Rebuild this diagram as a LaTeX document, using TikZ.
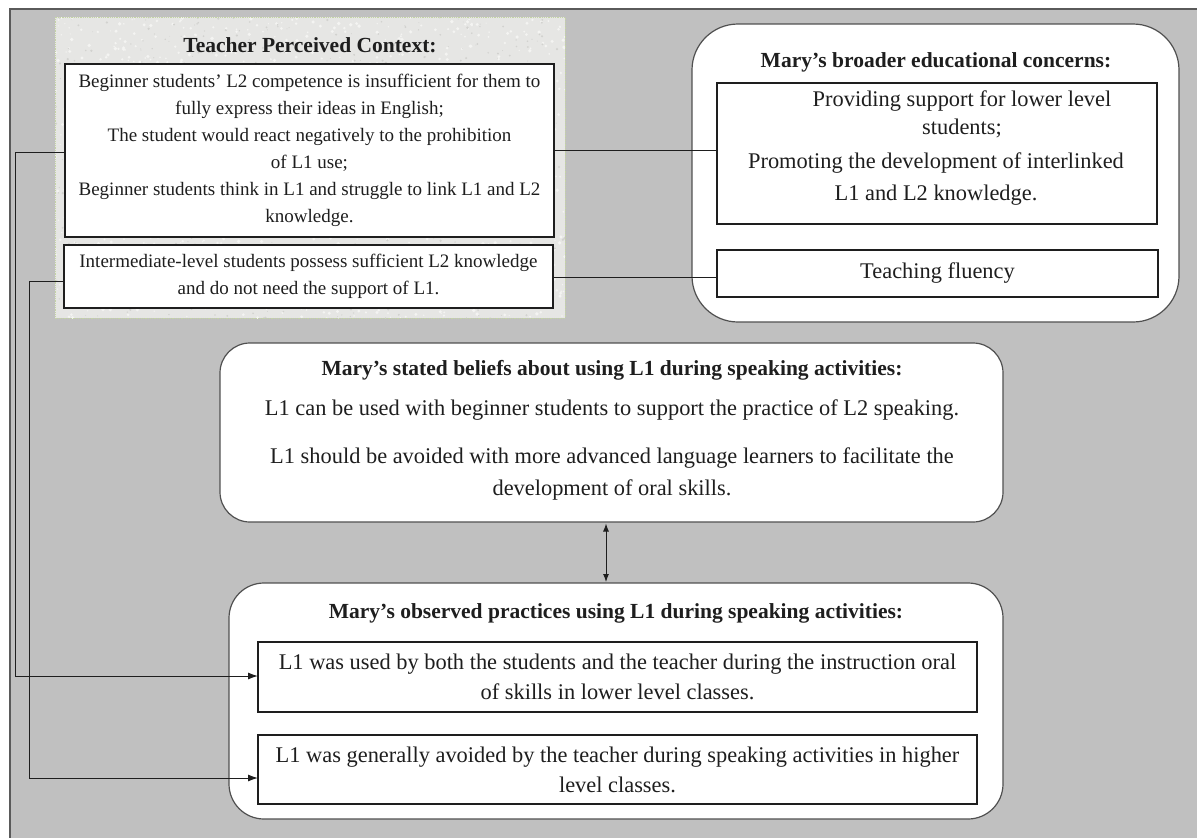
\documentclass[tikz,border=0pt]{standalone}
\usepackage{fontspec}
\setmainfont{Liberation Serif}
\usetikzlibrary{arrows.meta,calc}

\definecolor{pagegray}{HTML}{C0C0C0}
\definecolor{framegray}{HTML}{5A5A5A}
\definecolor{panelfill}{HTML}{E6E6E4}
\definecolor{panelspeck}{HTML}{F4F4F2}
\definecolor{paneldark}{HTML}{D2D2CF}
\definecolor{panelborder}{HTML}{C4D4A4}
\definecolor{inkline}{HTML}{1E1E1E}
\definecolor{roundline}{HTML}{505050}

\tikzset{
  ctxpanel/.style={fill=panelfill, draw=none, minimum width=510pt, minimum height=301pt},
  plainbox/.style={draw=inkline, fill=white, line width=1.1pt, align=center, text=inkline},
  roundbox/.style={draw=roundline, fill=white, line width=1.2pt},
  headtext/.style={font=\bfseries\fontsize{21.5}{26}\selectfont, text=inkline},
  smalltext/.style={font=\fontsize{19}{27}\selectfont},
  bodytext/.style={font=\fontsize{22.4}{30}\selectfont, align=center, text=inkline},
  link/.style={draw=inkline, line width=1pt},
  linkarrow/.style={link, -{Latex[length=10pt,width=7pt]}},
  twoway/.style={link, {Latex[length=8pt,width=6pt]}-{Latex[length=8pt,width=6pt]}},
}

\begin{document}
\begin{tikzpicture}[x=1pt, y=-1pt, every node/.style={inner sep=0pt, outer sep=0pt}]
\useasboundingbox (0,0) rectangle (1197,838);

% page background with its frame on the top and left sides
\fill[pagegray] (10,9) rectangle (1197,838);
\draw[framegray, line width=2pt] (10,838) -- (10,9) -- (1197,9);

% textured panel for the perceived context
\node[ctxpanel] (ctx) at (310,167.5) {};
\begin{scope}
  \clip (ctx.north west) rectangle (ctx.south east);
  \pgfmathsetseed{17}
  \foreach \i in {1,...,1400}{
    \pgfmathsetmacro\px{55+510*rnd}
    \pgfmathsetmacro\py{17+301*rnd}
    \pgfmathsetmacro\pr{0.6+1.3*rnd}
    \fill[panelspeck] (\px,\py) circle (\pr);
  }
  \foreach \i in {1,...,700}{
    \pgfmathsetmacro\px{55+510*rnd}
    \pgfmathsetmacro\py{17+301*rnd}
    \pgfmathsetmacro\pr{0.4+0.9*rnd}
    \fill[paneldark] (\px,\py) circle (\pr);
  }
\end{scope}
\draw[panelborder, densely dotted, line width=0.8pt] (ctx.north west) rectangle (ctx.south east);

\node[headtext] (ctxhead) at (310,45) {Teacher Perceived Context:};

\node[plainbox, smalltext, minimum width=489pt, minimum height=173pt] (t1) at (309.5,150.5)
  {Beginner students' L2 competence is insufficient for them to\\
   fully express their ideas in English;\\
   The student would react negatively to the prohibition\\
   of L1 use;\\
   Beginner students think in L1 and struggle to link L1 and L2\\
   knowledge.};

\node[plainbox, smalltext, minimum width=489pt, minimum height=63pt] (t2) at (308.5,276.5)
  {Intermediate-level students possess sufficient L2 knowledge\\
   and do not need the support of L1.};

% broader educational concerns
\node[roundbox, rounded corners=46pt, minimum width=487pt, minimum height=298pt] (concerns) at (935.5,173) {};
\node[headtext] (concernshead) at (936,62) {Mary's broader educational concerns:};
\node[plainbox, minimum width=440pt, minimum height=141pt] (ca) at (937,153.5) {};
\node[bodytext, font=\fontsize{22.4}{28}\selectfont] (catop) at (962,114)
  {Providing support for lower level\\ students;};
\node[bodytext, font=\fontsize{22.4}{32}\selectfont] (cabottom) at (936,179)
  {Promoting the development of interlinked\\ L1 and L2 knowledge.};
\node[plainbox, bodytext, minimum width=441pt, minimum height=47pt] (cb) at (937.5,273.5)
  {Teaching fluency};

% stated beliefs
\node[roundbox, rounded corners=30pt, minimum width=783pt, minimum height=179pt] (beliefs) at (611.5,432.5) {};
\node[headtext] (beliefshead) at (612,370) {Mary's stated beliefs about using L1 during speaking activities:};
\node[bodytext] (beliefone) at (612,410)
  {L1 can be used with beginner students to support the practice of L2 speaking.};
\node[bodytext, font=\fontsize{22.4}{32}\selectfont] (belieftwo) at (612,474)
  {L1 should be avoided with more advanced language learners to facilitate the\\
   development of oral skills.};

% observed practices
\node[roundbox, rounded corners=35pt, minimum width=774pt, minimum height=236pt] (practices) at (616,701) {};
\node[headtext] (practiceshead) at (616,613) {Mary's observed practices using L1 during speaking activities:};
\node[plainbox, bodytext, minimum width=719pt, minimum height=70pt] (p1) at (617.5,677)
  {L1 was used by both the students and the teacher during the instruction oral\\
   of skills in lower level classes.};
\node[plainbox, bodytext, minimum width=719pt, minimum height=69pt] (p2) at (617.5,769.5)
  {L1 was generally avoided by the teacher during speaking activities in higher\\
   level classes.};

% connectors
\draw[link] (t1.east) -- (t1.east -| ca.west);
\draw[link] ([yshift=-0.5pt]t2.east) -- ([yshift=-0.5pt]t2.east -| cb.west);
\draw[linkarrow] ([yshift=-1.5pt]t1.west) -- ++(-50,0) |- ([yshift=1pt]p1.west);
\draw[linkarrow] ([yshift=-4.5pt]t2.west) -- ++(-35,0) |- ([yshift=-8.5pt]p2.west);
\draw[twoway] ([xshift=-5.5pt,yshift=-1.5pt]beliefs.south) -- ([xshift=-10pt,yshift=1pt]practices.north);
\end{tikzpicture}
\end{document}
